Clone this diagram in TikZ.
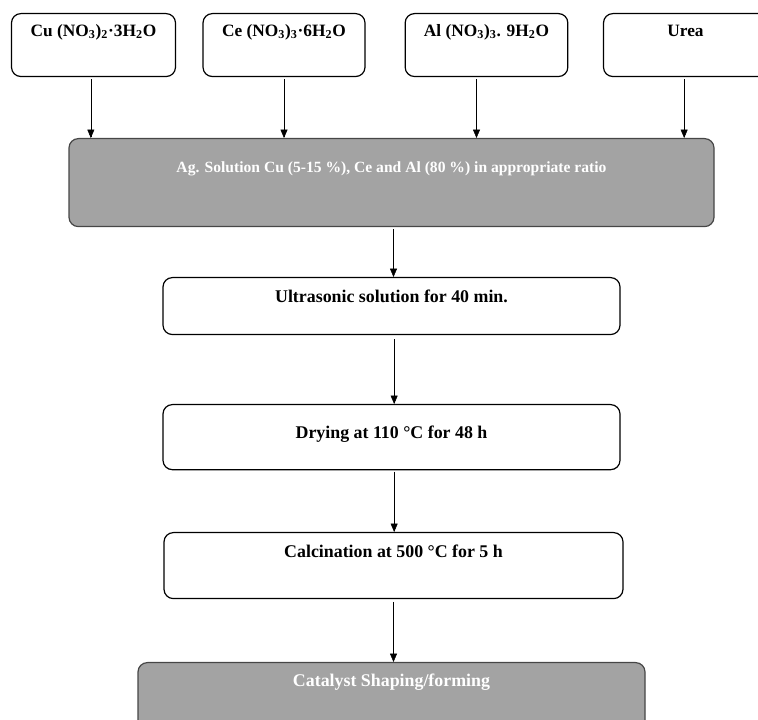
\documentclass[tikz,border=0pt]{standalone}
\usepackage{fontspec}
\setmainfont{Liberation Serif}
\usepackage{tikz}
\usetikzlibrary{arrows,positioning,calc}
\definecolor{boxgray}{RGB}{163,163,163}
\definecolor{edgegray}{RGB}{70,70,70}

\begin{document}
\begin{tikzpicture}[
    x=0.75pt, y=-0.75pt,
    inner sep=0pt, %text placed by text height/depth
    font=\fontsize{13.4}{15}\selectfont\bfseries,
    wbox/.style={rectangle,rounded corners=7pt,draw=black,fill=white,
        line width=0.9pt,anchor=north},
    gbox/.style={rectangle,rounded corners=7pt,draw=edgegray,fill=boxgray,
        line width=0.9pt,anchor=north,text=white},
    topbox/.style={wbox,minimum width=123pt,text height=17pt,text depth=30.2pt,
        font=\fontsize{13}{15}\selectfont\bfseries},
    >=triangle 45,
    ]
    \clip (0,0) rectangle (758,720);
    % starting materials
    \node[topbox] (cu) at (93.5,13) {Cu (NO\textsubscript{3})\textsubscript{2}·3H\textsubscript{2}O};
    \node[topbox,minimum width=121.5pt] (ce) at (284,13) {Ce (NO\textsubscript{3})\textsubscript{3}·6H\textsubscript{2}O};
    \node[topbox,minimum width=122pt] (al) at (486.5,13) {Al (NO\textsubscript{3})\textsubscript{3}. 9H\textsubscript{2}O};
    \node[topbox] (urea) at (685.5,13) {Urea};
    % process steps
    \node[gbox,minimum width=483.75pt,text height=25.3pt,text depth=40.7pt,
        font=\fontsize{11.7}{14}\selectfont\bfseries] (aq) at (391.5,138)
        {Ag. Solution Cu (5-15 \%), Ce and Al (80 \%) in appropriate ratio};
    \node[wbox,minimum width=342.75pt,text height=18.5pt,text depth=24.2pt] (ultra) at (391.5,277)
        {Ultrasonic solution for 40 min.};
    \node[wbox,minimum width=342.75pt,text height=25.3pt,text depth=23.5pt] (dry) at (391.5,404)
        {Drying at 110 °C for 48 h};
    \node[wbox,minimum width=344.25pt,text height=18.5pt,text depth=31pt] (calc) at (393.5,532)
        {Calcination at 500 °C for 5 h};
    \node[gbox,minimum width=380.25pt,text height=17.8pt,text depth=44.5pt] (shape) at (391.5,662)
        {Catalyst Shaping/forming};
    % arrows
    \draw[thin,->,shorten <=1.5pt] ([xshift=-2pt]cu.south) -- ([xshift=-2pt]cu.south |- aq.north);
    \draw[thin,->,shorten <=1.5pt] (ce.south) -- (ce.south |- aq.north);
    \draw[thin,->,shorten <=1.5pt] ([xshift=-7.5pt]al.south) -- ([xshift=-7.5pt]al.south |- aq.north);
    \draw[thin,->,shorten <=1.5pt] ([xshift=-1pt]urea.south) -- ([xshift=-1pt]urea.south |- aq.north);
    \draw[thin,->,shorten <=1.5pt] ([xshift=1.5pt]aq.south) -- ([xshift=1.5pt]aq.south |- ultra.north);
    \draw[thin,->,shorten <=3pt] ([xshift=2pt]ultra.south) -- ([xshift=2pt]ultra.south |- dry.north);
    \draw[thin,->,shorten <=1pt] ([xshift=2pt]dry.south) -- ([xshift=2pt]dry.south |- calc.north);
    \draw[thin,->,shorten <=2pt] (calc.south) -- (calc.south |- shape.north);
\end{tikzpicture}
\end{document}
